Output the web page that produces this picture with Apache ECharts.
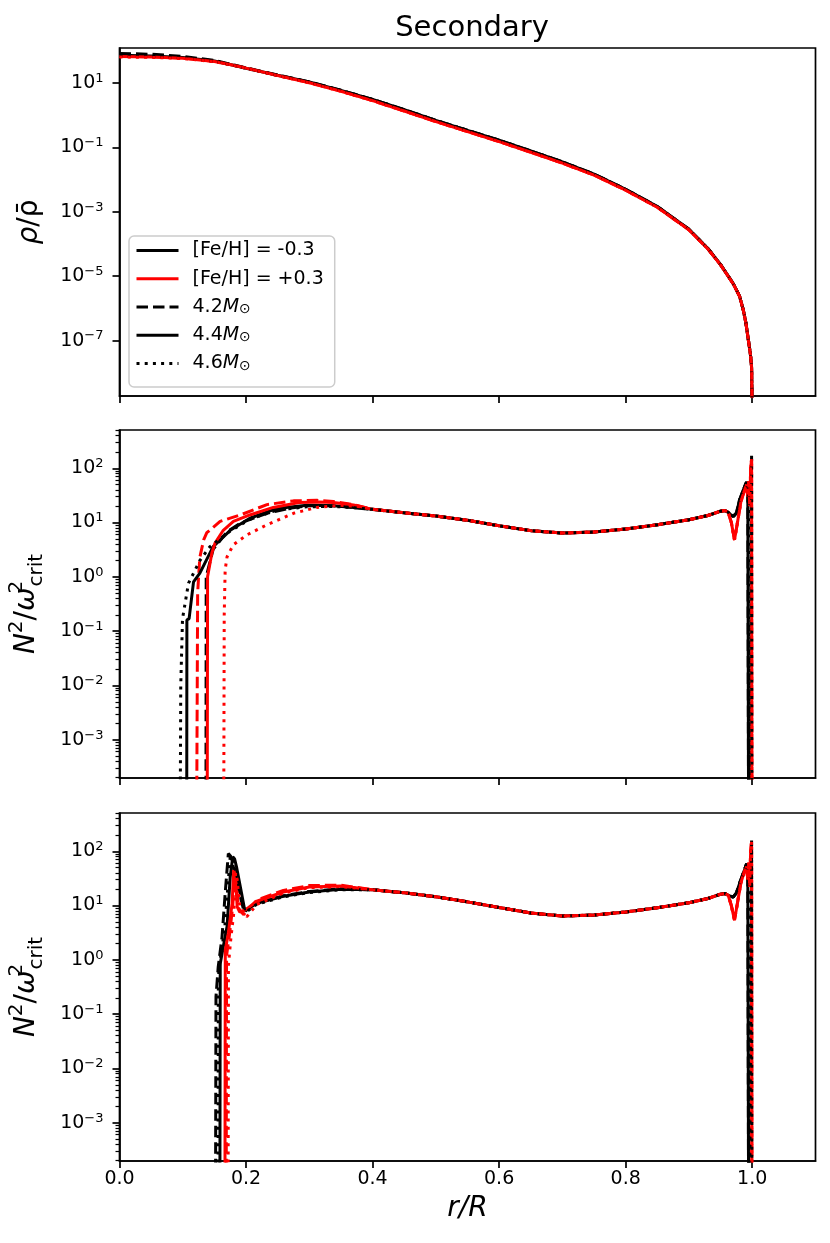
<!DOCTYPE html>
<html>
<head>
<meta charset="utf-8">
<title>Secondary</title>
<script src="https://cdn.jsdelivr.net/npm/echarts@6/dist/echarts.min.js"></script>
<style>
html, body { margin: 0; padding: 0; background: #fff; }
#main { width: 830px; height: 1243px; }
</style>
</head>
<body>
<div id="main"></div>
<script>
// tick positions
const xTicks = [0, 0.2, 0.4, 0.6, 0.8, 1.0];
const rhoTicks = [1e1, 1e-1, 1e-3, 1e-5, 1e-7];
const n2Ticks = [1e-3, 1e-2, 1e-1, 1e0, 1e1, 1e2];
const n2MinorTicks = [
    2e-4, 3e-4, 4e-4, 5e-4, 6e-4, 7e-4, 8e-4, 9e-4,
    2e-3, 3e-3, 4e-3, 5e-3, 6e-3, 7e-3, 8e-3, 9e-3,
    2e-2, 3e-2, 4e-2, 5e-2, 6e-2, 7e-2, 8e-2, 9e-2,
    0.2, 0.3, 0.4, 0.5, 0.6, 0.7, 0.8, 0.9,
    2, 3, 4, 5, 6, 7, 8, 9,
    20, 30, 40, 50, 60, 70, 80, 90,
    200, 300, 400, 500
];
const legendNames = ['[Fe/H] = -0.3', '[Fe/H] = +0.3', '4.2M', '4.4M', '4.6M'];

// ---- top panel: rho / rho_mean, [r/R, value]
const rhoHead42m = [[0, 83], [0.05, 78], [0.10, 67], [0.15, 50], [0.18, 36.5], [0.20, 29.5], [0.25, 17.6], [0.30, 10.8], [0.35, 5.95]];
const rhoHead44m = [[0, 72.4], [0.05, 69.2], [0.10, 61.7], [0.15, 47.9], [0.18, 35.5], [0.20, 28.8], [0.25, 17.4], [0.30, 10.7], [0.35, 5.9]];
const rhoHead46m = [[0, 70], [0.05, 67.5], [0.10, 60.5], [0.15, 47.5], [0.18, 35.5], [0.20, 28.6], [0.25, 17.3], [0.30, 10.6], [0.35, 5.85]];
const rhoHead42p = [[0, 68], [0.05, 65.5], [0.10, 59.5], [0.15, 47], [0.18, 35.8], [0.20, 29.2], [0.25, 17.2], [0.30, 10.3], [0.35, 5.6]];
const rhoHead44p = [[0, 66], [0.05, 64], [0.10, 58.5], [0.15, 46.5], [0.18, 35.5], [0.20, 29], [0.25, 17.0], [0.30, 10.2], [0.35, 5.55]];
const rhoHead46p = [[0, 64], [0.05, 62.5], [0.10, 57.5], [0.15, 46], [0.18, 35.2], [0.20, 28.8], [0.25, 16.9], [0.30, 10.1], [0.35, 5.5]];
const rhoBodyM = [[0.40, 3.09], [0.45, 1.48], [0.50, 0.692], [0.55, 0.339], [0.60, 0.166], [0.65, 0.0776], [0.70, 0.0355],
    [0.75, 0.0148], [0.80, 5.01e-3], [0.85, 1.45e-3], [0.90, 2.88e-4], [0.93, 7.24e-5], [0.95, 2.29e-5], [0.97, 5.89e-6],
    [0.98, 2.40e-6], [0.986, 8.71e-7], [0.99, 3.55e-7], [0.994, 1.02e-7], [0.997, 3.98e-8], [0.999, 1.51e-8], [1.0, 3.2e-10]];
const rhoBodyP = [[0.40, 2.82], [0.45, 1.35], [0.50, 0.63], [0.55, 0.31], [0.60, 0.151], [0.65, 0.0708], [0.70, 0.0324],
    [0.75, 0.0138], [0.80, 4.68e-3], [0.85, 1.38e-3], [0.90, 2.75e-4], [0.93, 7.0e-5], [0.95, 2.24e-5], [0.97, 5.8e-6],
    [0.98, 2.36e-6], [0.986, 8.6e-7], [0.99, 3.5e-7], [0.994, 1.0e-7], [0.997, 3.9e-8], [0.999, 1.5e-8], [1.0, 3.2e-10]];

// ---- middle panel: N^2 / omega_crit^2
const n2Head42m = [[0.1365, 2e-6], [0.1370, 1.0], [0.148, 3.2], [0.170, 6.8], [0.191, 9.8], [0.233, 14.8], [0.270, 18.5], [0.300, 20.4], [0.338, 20.4], [0.370, 19.0]];
const n2Head44m = [[0.1062, 2e-6], [0.1065, 0.16], [0.110, 0.17], [0.117, 0.81], [0.127, 1.17], [0.148, 3.6], [0.175, 7.2], [0.206, 12.0], [0.249, 18.2], [0.296, 20.9], [0.338, 20.4], [0.370, 19.0]];
const n2Head46m = [[0.0955, 2e-6], [0.0968, 0.01], [0.0996, 0.17], [0.109, 0.76], [0.127, 2.0], [0.143, 3.6], [0.175, 7.0], [0.206, 11.5], [0.249, 17.0], [0.296, 19.5], [0.338, 19.8], [0.370, 18.8]];
const n2Head42p = [[0.1215, 2e-6], [0.1235, 0.5], [0.1250, 1.0], [0.127, 2.3], [0.133, 4.8], [0.138, 6.5], [0.159, 10.5], [0.191, 13.8], [0.233, 21.4], [0.275, 25.1], [0.312, 25.7], [0.338, 24.5], [0.370, 21.5]];
const n2Head44p = [[0.1385, 2e-6], [0.1392, 1.0], [0.146, 2.75], [0.151, 4.2], [0.164, 7.2], [0.180, 10.5], [0.206, 13.8], [0.243, 19.0], [0.284, 23.4], [0.316, 24.0], [0.338, 23.5], [0.370, 21.0]];
const n2Head46p = [[0.1645, 2e-6], [0.1655, 0.2], [0.167, 1.35], [0.170, 2.34], [0.180, 3.9], [0.201, 5.9], [0.233, 9.1], [0.275, 14.8], [0.312, 19.0], [0.349, 20.9], [0.375, 20.0]];
const n2Mid = [[0.40, 17.5], [0.45, 15.1], [0.50, 13.2], [0.55, 11.0], [0.60, 8.7], [0.65, 7.1], [0.70, 6.4], [0.75, 6.7],
    [0.80, 7.6], [0.85, 9.1], [0.90, 11.3], [0.93, 13.5], [0.95, 16.2], [0.957, 16.6]];
const n2TailM = [[0.962, 15.5], [0.966, 14.0], [0.970, 12.9], [0.975, 15], [0.980, 26], [0.986, 40], [0.991, 56], [0.993, 48], [0.9945, 2e-6]];
const n2TailM46 = [[0.962, 15.5], [0.966, 14.0], [0.970, 12.9], [0.975, 15], [0.980, 26], [0.986, 40], [0.991, 56], [0.994, 42],
    [0.9955, 2e-6], [0.9975, 2e-6], [0.999, 180], [0.9995, 2e-6]];
const n2TailP = [[0.962, 15.5], [0.967, 10], [0.972, 4.8], [0.976, 9], [0.982, 24], [0.988, 40], [0.991, 50], [0.993, 30],
    [0.9945, 58], [0.996, 20], [0.9975, 95], [0.999, 150], [0.9995, 2e-6]];

// ---- bottom panel: N^2 / omega_crit^2
const n3Head42m = [[0.1515, 2e-6], [0.1525, 0.21], [0.156, 0.74], [0.162, 2.6], [0.167, 16.6], [0.172, 91], [0.176, 80], [0.180, 51], [0.191, 14.5], [0.197, 7.6], [0.217, 11.2], [0.259, 15.1], [0.300, 18.2], [0.350, 20.4]];
const n3Head44m = [[0.1585, 2e-6], [0.1592, 0.85], [0.164, 1.74], [0.170, 4.1], [0.175, 34], [0.179, 79], [0.182, 72], [0.185, 51], [0.193, 16.6], [0.198, 8.1], [0.217, 11.0], [0.259, 14.8], [0.300, 17.8], [0.350, 20.0]];
const n3Head46m = [[0.1555, 2e-6], [0.1562, 0.5], [0.160, 1.2], [0.166, 3.5], [0.171, 20], [0.175, 80], [0.179, 76], [0.183, 50], [0.192, 15], [0.199, 7.4], [0.217, 10.6], [0.259, 14.5], [0.300, 17.4], [0.350, 19.6]];
const n3Head42p = [[0.1685, 2e-6], [0.1692, 1.2], [0.174, 3.0], [0.179, 10], [0.182, 38], [0.185, 22], [0.188, 9], [0.196, 6.8], [0.217, 12.6], [0.259, 19.0], [0.300, 23.4], [0.350, 23.8]];
const n3Head44p = [[0.1665, 2e-6], [0.1672, 1.5], [0.172, 3.1], [0.178, 11], [0.1805, 45], [0.183, 35], [0.186, 9.5], [0.190, 7.6], [0.200, 8.5], [0.217, 12.0], [0.259, 17.8], [0.300, 21.9], [0.350, 22.9]];
const n3Head46p = [[0.1715, 2e-6], [0.1722, 0.8], [0.176, 2.5], [0.181, 8], [0.1835, 40], [0.186, 30], [0.190, 10], [0.201, 6.2], [0.217, 10.5], [0.259, 17.0], [0.300, 21.4], [0.350, 22.4]];
const n3Mid = [[0.40, 19.5], [0.45, 17.2], [0.50, 14.5], [0.55, 11.7], [0.60, 9.2], [0.65, 7.3], [0.70, 6.4], [0.75, 6.7],
    [0.80, 7.6], [0.85, 9.1], [0.90, 11.3], [0.93, 13.5], [0.95, 16.2], [0.957, 16.6]];
const n3TailM = [[0.962, 15.5], [0.966, 14.8], [0.970, 14.4], [0.975, 17], [0.982, 30], [0.988, 46], [0.991, 59], [0.993, 50], [0.9945, 2e-6]];
const n3TailM46 = [[0.962, 15.5], [0.966, 14.8], [0.970, 14.4], [0.975, 17], [0.982, 30], [0.988, 46], [0.991, 59], [0.994, 45],
    [0.9955, 2e-6], [0.9975, 2e-6], [0.999, 166], [0.9995, 2e-6]];
const n3TailP = [[0.962, 15.5], [0.967, 10], [0.972, 5.4], [0.976, 10], [0.982, 26], [0.988, 44], [0.991, 52], [0.993, 30],
    [0.9945, 62], [0.996, 22], [0.9975, 100], [0.999, 150], [0.9995, 2e-6]];

const FONT = 'DejaVu Sans';
const BLACK = '#000000', RED = '#ff0000';
const DASH = [11.5, 5], DOT = [3, 5.2];
const PLOT_W = 696;

let myChart = echarts.init(document.getElementById('main'));

function powLabel(v) {
    let e = Math.round(Math.log10(v));
    return '10{s|' + String(e).replace('-', '\u2212') + '}';
}

function xAxis(idx, last) {
    return {
        type: 'value', gridIndex: idx, min: 0, max: 1.1,
        axisLine: {show: true, onZero: false, lineStyle: {color: BLACK, width: 1.7}},
        axisTick: {show: true, length: 7, customValues: xTicks, lineStyle: {color: BLACK, width: 1.7}},
        axisLabel: {show: last, customValues: xTicks, margin: 9, color: BLACK, fontSize: 19, fontFamily: FONT,
            formatter: function (v) { return v.toFixed(1); }},
        splitLine: {show: false},
        name: last ? 'r/R' : '',
        nameLocation: 'middle', nameGap: 34,
        nameTextStyle: {fontSize: 28, fontFamily: FONT, fontStyle: 'italic', color: BLACK}
    };
}

function yAxis(idx, min, max, ticks, name, gap, rich) {
    return {
        type: 'log', logBase: 10, gridIndex: idx, min: min, max: max, position: 'left',
        axisLine: {show: true, onZero: false, lineStyle: {color: BLACK, width: 1.7}},
        axisTick: {show: true, length: 7, customValues: ticks, lineStyle: {color: BLACK, width: 1.7}},
        axisLabel: {customValues: ticks, margin: 16, color: BLACK, fontSize: 19, fontFamily: FONT, lineHeight: 22,
            formatter: powLabel, rich: {s: {fontSize: 13, lineHeight: 14, verticalAlign: 'top'}}},
        splitLine: {show: false},
        minorTick: {show: false},
        name: name, nameLocation: 'middle', nameRotate: 90, nameGap: gap,
        nameTextStyle: {fontSize: 28, fontFamily: FONT, color: BLACK, lineHeight: 40, rich: rich}
    };
}

// extra axis per N2 panel carrying only the 2..9 x 10^n minor ticks;
// it sits on the right and is shifted back onto the left frame edge
function minorAxis(idx) {
    return {
        show: true,
        type: 'log', logBase: 10, gridIndex: idx, min: 1.97e-4, max: 507,
        position: 'right', offset: -PLOT_W,
        axisLine: {show: false, onZero: false},
        axisTick: {show: true, inside: true, length: 4, customValues: n2MinorTicks, lineStyle: {color: BLACK, width: 1.2}},
        axisLabel: {show: false},
        splitLine: {show: false}
    };
}

function line(name, panel, data, color, dash) {
    return {
        name: name, type: 'line', xAxisIndex: panel, yAxisIndex: panel,
        data: data, symbol: 'none', showSymbol: false, clip: true,
        lineStyle: {color: color, width: 3, type: dash},
        itemStyle: {color: color}
    };
}

const n2Rich = {
    i: {fontStyle: 'italic', fontSize: 28, lineHeight: 40},
    s: {fontSize: 20, lineHeight: 20, verticalAlign: 'top'},
    t: {fontSize: 20, lineHeight: 20, verticalAlign: 'top', width: 1},
    c: {fontSize: 20, lineHeight: 20, verticalAlign: 'bottom'}
};
const rhoRich = {i: {fontStyle: 'italic', fontSize: 28, lineHeight: 34}};
const n2Name = '{i|N}{s|2}/{i|\u03c9}{t|2}{c|crit}';

let series = [
    line('rho 4.2 -0.3', 0, rhoHead42m.concat(rhoBodyM), BLACK, DASH),
    line('rho 4.2 +0.3', 0, rhoHead42p.concat(rhoBodyP), RED, DASH),
    line('rho 4.4 -0.3', 0, rhoHead44m.concat(rhoBodyM), BLACK, 'solid'),
    line('rho 4.4 +0.3', 0, rhoHead44p.concat(rhoBodyP), RED, 'solid'),
    line('rho 4.6 -0.3', 0, rhoHead46m.concat(rhoBodyM), BLACK, DOT),
    line('rho 4.6 +0.3', 0, rhoHead46p.concat(rhoBodyP), RED, DOT),

    line('n2 4.2 -0.3', 1, n2Head42m.concat(n2Mid, n2TailM), BLACK, DASH),
    line('n2 4.2 +0.3', 1, n2Head42p.concat(n2Mid, n2TailP), RED, DASH),
    line('n2 4.4 -0.3', 1, n2Head44m.concat(n2Mid, n2TailM), BLACK, 'solid'),
    line('n2 4.4 +0.3', 1, n2Head44p.concat(n2Mid, n2TailP), RED, 'solid'),
    line('n2 4.6 -0.3', 1, n2Head46m.concat(n2Mid, n2TailM46), BLACK, DOT),
    line('n2 4.6 +0.3', 1, n2Head46p.concat(n2Mid, n2TailP), RED, DOT),

    line('n3 4.2 -0.3', 2, n3Head42m.concat(n3Mid, n3TailM), BLACK, DASH),
    line('n3 4.2 +0.3', 2, n3Head42p.concat(n3Mid, n3TailP), RED, DASH),
    line('n3 4.4 -0.3', 2, n3Head44m.concat(n3Mid, n3TailM), BLACK, 'solid'),
    line('n3 4.4 +0.3', 2, n3Head44p.concat(n3Mid, n3TailP), RED, 'solid'),
    line('n3 4.6 -0.3', 2, n3Head46m.concat(n3Mid, n3TailM46), BLACK, DOT),
    line('n3 4.6 +0.3', 2, n3Head46p.concat(n3Mid, n3TailP), RED, DOT),

    // invisible single-point series so the minor-tick axes get drawn
    {name: 'minor 2', type: 'line', xAxisIndex: 1, yAxisIndex: 3, data: [[0.5, 1]], symbol: 'none', lineStyle: {opacity: 0}},
    {name: 'minor 3', type: 'line', xAxisIndex: 2, yAxisIndex: 4, data: [[0.5, 1]], symbol: 'none', lineStyle: {opacity: 0}},

    // legend-only entries
    line(legendNames[0], 0, [], BLACK, 'solid'),
    line(legendNames[1], 0, [], RED, 'solid'),
    line(legendNames[2], 0, [], BLACK, DASH),
    line(legendNames[3], 0, [], BLACK, 'solid'),
    line(legendNames[4], 0, [], BLACK, DOT)
];

let option = {
    animation: false,
    backgroundColor: '#ffffff',
    title: {
        text: 'Secondary', left: 467, top: 9, textAlign: 'center',
        textStyle: {fontSize: 29, fontWeight: 'normal', fontFamily: FONT, color: BLACK}
    },
    legend: {
        data: legendNames, orient: 'vertical', left: 129, top: 236,
        itemWidth: 42, itemHeight: 14, itemGap: 9.25,
        padding: [5, 11, 14, 6],
        borderColor: '#cccccc', borderWidth: 1.5, borderRadius: 5,
        backgroundColor: 'rgba(255,255,255,0.8)',
        selectedMode: false,
        itemStyle: {color: 'rgba(0,0,0,0)', borderColor: 'rgba(0,0,0,0)', borderWidth: 0, opacity: 0},
        lineStyle: {width: 3},
        textStyle: {
            fontSize: 19, fontFamily: FONT, color: BLACK, padding: [0, 0, 0, 9],
            rich: {
                m: {fontStyle: 'italic', fontSize: 19},
                o: {fontSize: 14, lineHeight: 6, verticalAlign: 'bottom'}
            }
        },
        formatter: function (name) {
            if (name.charAt(0) === '[') return name;
            return name.slice(0, 3) + '{m|M}{o|\u2299}';
        }
    },
    grid: [
        {left: 119.5, width: PLOT_W, top: 48, height: 348, show: true, borderColor: BLACK, borderWidth: 1.7, outerBoundsMode: 'none'},
        {left: 119.5, width: PLOT_W, top: 430, height: 348, show: true, borderColor: BLACK, borderWidth: 1.7, outerBoundsMode: 'none'},
        {left: 119.5, width: PLOT_W, top: 813, height: 348, show: true, borderColor: BLACK, borderWidth: 1.7, outerBoundsMode: 'none'}
    ],
    xAxis: [xAxis(0, false), xAxis(1, false), xAxis(2, true)],
    yAxis: [
        yAxis(0, 1.9e-9, 122, rhoTicks, '{i|\u03c1}/\u03c1\u0304', 68, rhoRich),
        yAxis(1, 1.97e-4, 507, n2Ticks, n2Name, 73, n2Rich),
        yAxis(2, 1.97e-4, 507, n2Ticks, n2Name, 73, n2Rich),
        minorAxis(1),
        minorAxis(2)
    ],
    series: series
};
myChart.setOption(option);
</script>
</body>
</html>
